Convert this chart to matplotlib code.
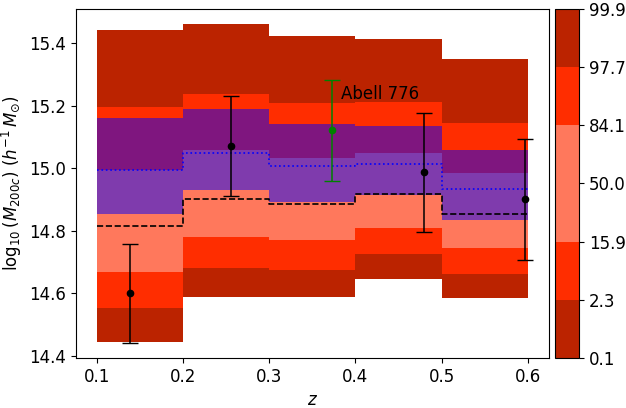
import numpy as np
import matplotlib
matplotlib.use("Agg")
import matplotlib.pyplot as plt
from matplotlib.colors import ListedColormap, BoundaryNorm
from matplotlib.cm import ScalarMappable

# redshift bins
z_edges = [0.1, 0.2, 0.3, 0.4, 0.5, 0.6]

# percentiles of predicted log10 M200c per bin (red distribution)
p0_1 = [14.444, 14.588, 14.588, 14.646, 14.585]
p2_3 = [14.553, 14.680, 14.675, 14.725, 14.661]
p15_9 = [14.669, 14.780, 14.769, 14.809, 14.745]
p50 = [14.814, 14.903, 14.887, 14.917, 14.854]
p84_1 = [14.994, 15.057, 15.033, 15.049, 14.985]
p97_7 = [15.195, 15.237, 15.207, 15.210, 15.145]
p99_9 = [15.442, 15.460, 15.422, 15.412, 15.349]

# second distribution (blue) 16/50/84
b16 = [14.853, 14.930, 14.892, 14.913, 14.834]
b50 = [14.994, 15.048, 15.008, 15.012, 14.935]
b84 = [15.161, 15.189, 15.141, 15.135, 15.058]

# observed clusters
z_obs = [0.1376, 0.2547, 0.480, 0.5973]
m_obs = [14.600, 15.071, 14.987, 14.900]
m_lo = [14.442, 14.910, 14.796, 14.706]
m_hi = [14.758, 15.231, 15.177, 15.094]

z_abell = 0.3724
m_abell = 15.121
m_abell_lo = 14.960
m_abell_hi = 15.282

pct_labels = ["0.1", "2.3", "15.9", "50.0", "84.1", "97.7", "99.9"]

dark = "#bb2300"
bright = "#ff2d00"
salmon = "#ff785c"

fig = plt.figure(figsize=(6.26, 4.08), dpi=100)
ax = fig.add_axes([0.1214, 0.1225, 0.7556, 0.8555])
cax = fig.add_axes([0.8866, 0.1225, 0.0384, 0.8555])

bands = [(p0_1, p2_3, dark), (p2_3, p15_9, bright), (p15_9, p84_1, salmon),
         (p84_1, p97_7, bright), (p97_7, p99_9, dark)]
for i in range(len(p50)):
    zz = [z_edges[i], z_edges[i + 1]]
    for lo, hi, c in bands:
        ax.fill_between(zz, lo[i], hi[i], color=c, lw=0)
    ax.fill_between(zz, b16[i], b84[i], color="b", alpha=0.5, lw=0)

ax.step(z_edges, p50 + [p50[-1]], where="post", color="k", ls="--", lw=1.2)
ax.step(z_edges, b50 + [b50[-1]], where="post", color="b", ls=":", lw=1.2)

yerr = [np.array(m_obs) - np.array(m_lo), np.array(m_hi) - np.array(m_obs)]
ax.errorbar(z_obs, m_obs, yerr=yerr, fmt="o", color="k", ms=4.5, capsize=6, lw=1.1)
ax.errorbar([z_abell], [m_abell], yerr=[[m_abell - m_abell_lo], [m_abell_hi - m_abell]],
            fmt="o", color="g", ms=4.5, capsize=6, lw=1.1)
ax.text(z_abell + 0.011, 15.221, "Abell 776", fontsize=12, va="baseline")

ax.set_xlim(0.075, 0.625)
ax.set_ylim(14.393, 15.509)
ax.set_xticks([0.1, 0.2, 0.3, 0.4, 0.5, 0.6])
ax.set_yticks([14.4, 14.6, 14.8, 15.0, 15.2, 15.4])
ax.tick_params(labelsize=12)
ax.set_xlabel("$z$", fontsize=12)
ax.set_ylabel(r"$\log_{10}(M_{200c})\ (h^{-1}\,M_{\odot})$", fontsize=12)

cmap = ListedColormap([dark, bright, salmon, salmon, bright, dark])
norm = BoundaryNorm(np.arange(7), 6)
cb = fig.colorbar(ScalarMappable(norm=norm, cmap=cmap), cax=cax, ticks=np.arange(7))
cb.ax.set_yticklabels(pct_labels)
cb.ax.tick_params(labelsize=12)

fig.savefig("out.png", dpi=100)
